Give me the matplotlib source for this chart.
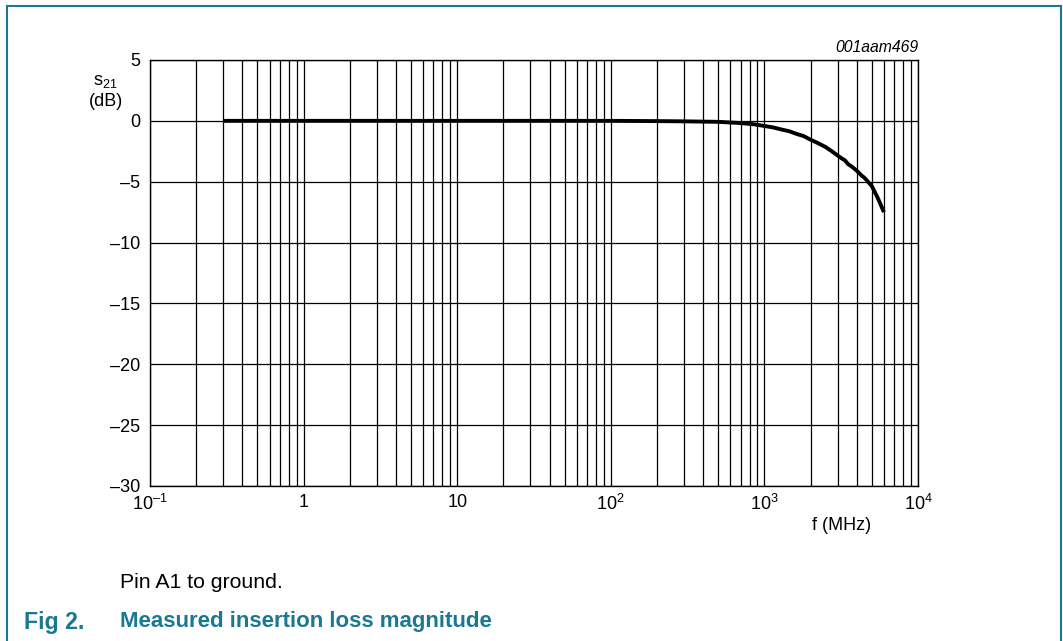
import matplotlib
matplotlib.use("Agg")
import matplotlib.pyplot as plt

plt.rcParams['font.family'] = ['Liberation Sans', 'DejaVu Sans']
plt.rcParams['mathtext.fontset'] = 'custom'
plt.rcParams['mathtext.rm'] = 'Liberation Sans'
plt.rcParams['mathtext.it'] = 'Liberation Sans:italic'
plt.rcParams['mathtext.bf'] = 'Liberation Sans:bold'

# Data
freq_mhz = [0.3, 1, 10, 100, 200, 300, 500, 700, 850, 1000, 1150, 1300, 1450, 1600, 1800, 2000,
            2250, 2500, 2750, 3000, 3200, 3350, 3500, 3700, 4000, 4300, 4500, 4800, 5000, 5500, 6000]
s21_db = [0.0, 0.0, 0.0, 0.0, -0.02, -0.04, -0.08, -0.18, -0.28, -0.42, -0.55, -0.72, -0.85, -1.05,
          -1.25, -1.55, -1.85, -2.15, -2.5, -2.85, -3.1, -3.25, -3.55, -3.75, -4.1, -4.5, -4.7,
          -5.1, -5.35, -6.4, -7.5]
xtick_vals = [0.1, 1, 10, 100, 1000, 10000]
xtick_labels = ['10$^{\\mathregular{\u20131}}$', '1', '10', '10$^{\\mathregular{2}}$',
                '10$^{\\mathregular{3}}$', '10$^{\\mathregular{4}}$']
ytick_vals = [5, 0, -5, -10, -15, -20, -25, -30]
ytick_labels = ['5', '0', '\u20135', '\u201310', '\u201315', '\u201320', '\u201325', '\u201330']

W, H = 1063, 641
fig = plt.figure(figsize=(W / 100, H / 100), dpi=100)

teal = '#1a7892'
# frame border (left, top, right)
fig.add_artist(plt.Line2D([7 / W, 7 / W], [0, 1 - 6 / H], color=teal, lw=1.5))
fig.add_artist(plt.Line2D([7 / W, 1061 / W], [1 - 6 / H, 1 - 6 / H], color=teal, lw=1.5))
fig.add_artist(plt.Line2D([1061 / W, 1061 / W], [0, 1 - 6 / H], color=teal, lw=1.5))

left, right, top, bottom = 150, 918, 60, 486
ax = fig.add_axes([left / W, 1 - bottom / H, (right - left) / W, (bottom - top) / H])
ax.set_xscale('log')
ax.set_xlim(0.1, 10000)
ax.set_ylim(-30, 5)

ax.plot(freq_mhz, s21_db, color='black', lw=2.8, solid_capstyle='butt')

ax.set_xticks(xtick_vals)
ax.set_xticklabels(xtick_labels)
ax.set_xticks([m * 10.0 ** e for e in range(-1, 4) for m in range(2, 10)], minor=True)
ax.set_xticklabels([], minor=True)
ax.set_yticks(ytick_vals)
ax.set_yticklabels(ytick_labels)
ax.tick_params(axis='both', which='both', length=0, labelsize=13)
ax.tick_params(axis='x', pad=6)
ax.tick_params(axis='y', pad=7)
ax.grid(True, which='both', axis='x', color='black', lw=0.9)
ax.grid(True, which='major', axis='y', color='black', lw=0.9)
for s in ax.spines.values():
    s.set_linewidth(1.0)

fig.text(918 / W, 1 - 48 / H, '001aam469', ha='right', va='center', fontsize=11.3, style='italic')
fig.text(105 / W, 1 - 81 / H, 's$_{\\mathregular{21}}$', ha='center', va='center', fontsize=13)
fig.text(106 / W, 1 - 102 / H, '(dB)', ha='center', va='center', fontsize=13)
fig.text(842 / W, 1 - 525 / H, 'f (MHz)', ha='center', va='center', fontsize=13)
fig.text(120 / W, 1 - 582 / H, 'Pin A1 to ground.', ha='left', va='center', fontsize=15.3)
fig.text(24 / W, 1 - 622 / H, 'Fig 2.', ha='left', va='center', fontsize=16.7,
         fontweight='bold', color=teal)
fig.text(120 / W, 1 - 622 / H, 'Measured insertion loss magnitude', ha='left', va='center',
         fontsize=16.0, fontweight='bold', color=teal)

fig.savefig('out.png', dpi=100)
